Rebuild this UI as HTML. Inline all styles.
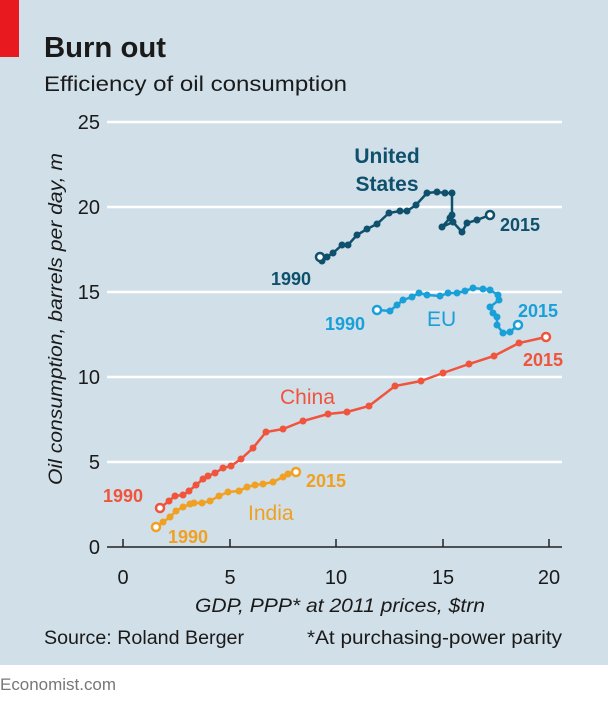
<!DOCTYPE html>
<html><head><meta charset="utf-8"><style>
body{margin:0;width:608px;height:701px;overflow:hidden;background:#fff}
svg{display:block;font-family:"Liberation Sans",sans-serif}
</style></head><body>
<svg width="608" height="701" viewBox="0 0 608 701">
<rect x="0" y="0" width="608" height="665" fill="#d0dfe8"/>
<rect x="0" y="0" width="19" height="57" fill="#e8191f"/>
<text x="44" y="57" font-size="29" font-weight="bold" fill="#1a1a1a" textLength="122" lengthAdjust="spacingAndGlyphs">Burn out</text>
<text x="44" y="91" font-size="21" fill="#1a1a1a" textLength="303" lengthAdjust="spacingAndGlyphs">Efficiency of oil consumption</text>
<g stroke="#fff" stroke-width="2.5">
<line x1="107" y1="122" x2="562" y2="122"/><line x1="107" y1="207" x2="562" y2="207"/>
<line x1="107" y1="292" x2="562" y2="292"/><line x1="107" y1="377" x2="562" y2="377"/>
<line x1="107" y1="462" x2="562" y2="462"/></g>
<g stroke="#222" stroke-width="1.5">
<line x1="107" y1="547" x2="562" y2="547"/>
<line x1="123" y1="539" x2="123" y2="547"/><line x1="230" y1="539" x2="230" y2="547"/>
<line x1="336" y1="539" x2="336" y2="547"/><line x1="443" y1="539" x2="443" y2="547"/>
<line x1="549" y1="539" x2="549" y2="547"/></g>
<g font-size="20" fill="#1a1a1a" text-anchor="end">
<text x="100" y="129">25</text><text x="100" y="214">20</text><text x="100" y="299">15</text>
<text x="100" y="384">10</text><text x="100" y="469">5</text><text x="100" y="554">0</text></g>
<g font-size="20" fill="#1a1a1a" text-anchor="middle">
<text x="123" y="584">0</text><text x="230" y="584">5</text><text x="336" y="584">10</text>
<text x="443" y="584">15</text><text x="549" y="584">20</text></g>
<text x="340" y="612" font-size="19" font-style="italic" fill="#1a1a1a" text-anchor="middle" textLength="290" lengthAdjust="spacingAndGlyphs">GDP, PPP* at 2011 prices, $trn</text>
<text transform="translate(62,319) rotate(-90)" font-size="19" font-style="italic" fill="#1a1a1a" text-anchor="middle" textLength="332" lengthAdjust="spacingAndGlyphs">Oil consumption, barrels per day, m</text>
<text x="44" y="644" font-size="19" fill="#1a1a1a" textLength="200" lengthAdjust="spacingAndGlyphs">Source: Roland Berger</text>
<text x="562" y="644" font-size="19" fill="#1a1a1a" text-anchor="end" textLength="255" lengthAdjust="spacingAndGlyphs">*At purchasing-power parity</text>
<text x="0" y="690" font-size="17" fill="#777" textLength="116" lengthAdjust="spacingAndGlyphs">Economist.com</text>

<!-- US -->
<g fill="#0f506c" stroke="#0f506c">
<polyline fill="none" stroke-width="2.5" points="320,257 322,261 327,257 333,253 342,245 348,245 357,235 367,229 377,224 389,213 400,211 407,211 416,205 427,193 437,192 445,193 452,193 452,215 450,218 442,227 453,222 462,232 467,223 477,220 490,215"/>
<g stroke="none"><circle cx="322" cy="261" r="3.5"/><circle cx="327" cy="257" r="3.5"/><circle cx="333" cy="253" r="3.5"/><circle cx="342" cy="245" r="3.5"/><circle cx="348" cy="245" r="3.5"/><circle cx="357" cy="235" r="3.5"/><circle cx="367" cy="229" r="3.5"/><circle cx="377" cy="224" r="3.5"/><circle cx="389" cy="213" r="3.5"/><circle cx="400" cy="211" r="3.5"/><circle cx="407" cy="211" r="3.5"/><circle cx="416" cy="205" r="3.5"/><circle cx="427" cy="193" r="3.5"/><circle cx="437" cy="192" r="3.5"/><circle cx="445" cy="193" r="3.5"/><circle cx="452" cy="193" r="3.5"/><circle cx="452" cy="215" r="3.5"/><circle cx="450" cy="218" r="3.5"/><circle cx="442" cy="227" r="3.5"/><circle cx="453" cy="222" r="3.5"/><circle cx="462" cy="232" r="3.5"/><circle cx="467" cy="223" r="3.5"/><circle cx="477" cy="220" r="3.5"/></g>
<circle cx="320" cy="257" r="4" fill="#fff" stroke-width="2.5"/><circle cx="490" cy="215" r="4" fill="#fff" stroke-width="2.5"/>
</g>
<g fill="#0f506c" font-size="21" font-weight="bold">
<text x="387" y="163" text-anchor="middle">United</text><text x="387" y="191" text-anchor="middle">States</text>
<text x="271" y="285" font-size="18">1990</text><text x="500" y="231" font-size="18">2015</text></g>

<!-- EU -->
<g fill="#1aa0d8" stroke="#1aa0d8">
<polyline fill="none" stroke-width="2.5" points="377,310 390,311 397,305 403,300 412,297 419,293 427,295 440,296 448,293 457,293 465,291 473,288 483,289 490,290 498,295 499,300 490,307 493,313 497,317 497,325 503,333 510,332 518,325"/>
<g stroke="none"><circle cx="390" cy="311" r="3.5"/><circle cx="397" cy="305" r="3.5"/><circle cx="403" cy="300" r="3.5"/><circle cx="412" cy="297" r="3.5"/><circle cx="419" cy="293" r="3.5"/><circle cx="427" cy="295" r="3.5"/><circle cx="440" cy="296" r="3.5"/><circle cx="448" cy="293" r="3.5"/><circle cx="457" cy="293" r="3.5"/><circle cx="465" cy="291" r="3.5"/><circle cx="473" cy="288" r="3.5"/><circle cx="483" cy="289" r="3.5"/><circle cx="490" cy="290" r="3.5"/><circle cx="498" cy="295" r="3.5"/><circle cx="499" cy="300" r="3.5"/><circle cx="490" cy="307" r="3.5"/><circle cx="493" cy="313" r="3.5"/><circle cx="497" cy="317" r="3.5"/><circle cx="497" cy="325" r="3.5"/><circle cx="503" cy="333" r="3.5"/><circle cx="510" cy="332" r="3.5"/></g>
<circle cx="377" cy="310" r="4" fill="#fff" stroke-width="2.5"/><circle cx="518" cy="325" r="4" fill="#fff" stroke-width="2.5"/>
</g>
<g fill="#1aa0d8" font-weight="bold" font-size="18">
<text x="325" y="330">1990</text><text x="518" y="317">2015</text>
<text x="427" y="326" font-size="21" font-weight="normal">EU</text></g>

<!-- China -->
<g fill="#f0543c" stroke="#f0543c">
<polyline fill="none" stroke-width="2.5" points="160,508 169,501 175,496 183,495 189,491 196,485 203,479 208,476 215,473 223,468 231,466 241,459 253,448 266,432 283,429 303,421 328,414 347,412 369,406 395,386 421,381 443,373 469,364 494,356 519,343 546,337"/>
<g stroke="none"><circle cx="169" cy="501" r="3.5"/><circle cx="175" cy="496" r="3.5"/><circle cx="183" cy="495" r="3.5"/><circle cx="189" cy="491" r="3.5"/><circle cx="196" cy="485" r="3.5"/><circle cx="203" cy="479" r="3.5"/><circle cx="208" cy="476" r="3.5"/><circle cx="215" cy="473" r="3.5"/><circle cx="223" cy="468" r="3.5"/><circle cx="231" cy="466" r="3.5"/><circle cx="241" cy="459" r="3.5"/><circle cx="253" cy="448" r="3.5"/><circle cx="266" cy="432" r="3.5"/><circle cx="283" cy="429" r="3.5"/><circle cx="303" cy="421" r="3.5"/><circle cx="328" cy="414" r="3.5"/><circle cx="347" cy="412" r="3.5"/><circle cx="369" cy="406" r="3.5"/><circle cx="395" cy="386" r="3.5"/><circle cx="421" cy="381" r="3.5"/><circle cx="443" cy="373" r="3.5"/><circle cx="469" cy="364" r="3.5"/><circle cx="494" cy="356" r="3.5"/><circle cx="519" cy="343" r="3.5"/></g>
<circle cx="160" cy="508" r="4" fill="#fff" stroke-width="2.5"/><circle cx="546" cy="337" r="4" fill="#fff" stroke-width="2.5"/>
</g>
<g fill="#f0543c" font-size="18" font-weight="bold">
<text x="103" y="502">1990</text><text x="523" y="366">2015</text>
<text x="280" y="404" font-size="21" font-weight="normal">China</text></g>

<!-- India -->
<g fill="#f0a022" stroke="#f0a022">
<polyline fill="none" stroke-width="2.5" points="156,527 163,522 170,517 176,511 183,507 190,504 194,503 202,503 210,501 219,496 228,492 239,491 247,487 255,485 263,484 273,482 283,477 288,474 296,472"/>
<g stroke="none"><circle cx="163" cy="522" r="3.5"/><circle cx="170" cy="517" r="3.5"/><circle cx="176" cy="511" r="3.5"/><circle cx="183" cy="507" r="3.5"/><circle cx="190" cy="504" r="3.5"/><circle cx="194" cy="503" r="3.5"/><circle cx="202" cy="503" r="3.5"/><circle cx="210" cy="501" r="3.5"/><circle cx="219" cy="496" r="3.5"/><circle cx="228" cy="492" r="3.5"/><circle cx="239" cy="491" r="3.5"/><circle cx="247" cy="487" r="3.5"/><circle cx="255" cy="485" r="3.5"/><circle cx="263" cy="484" r="3.5"/><circle cx="273" cy="482" r="3.5"/><circle cx="283" cy="477" r="3.5"/><circle cx="288" cy="474" r="3.5"/></g>
<circle cx="156" cy="527" r="4" fill="#fff" stroke-width="2.5"/><circle cx="296" cy="472" r="4" fill="#fff" stroke-width="2.5"/>
</g>
<g fill="#f0a022" font-size="18" font-weight="bold">
<text x="168" y="543">1990</text><text x="306" y="487">2015</text>
<text x="248" y="520" font-size="21" font-weight="normal">India</text></g>
</svg>
</body></html>
